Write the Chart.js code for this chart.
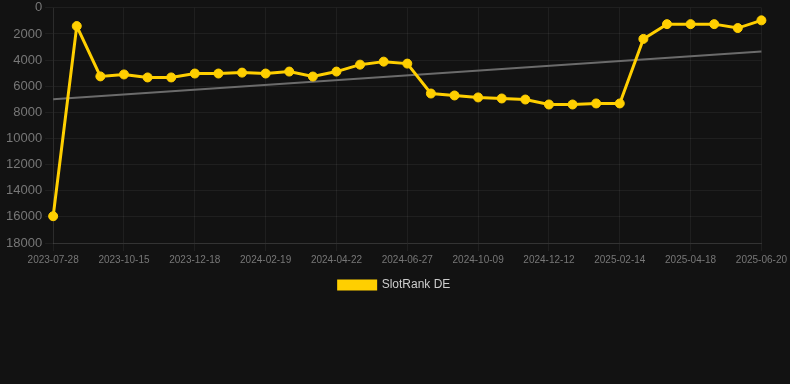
<!DOCTYPE html>
<html>
<head>
<meta charset="utf-8">
<script src="https://cdn.jsdelivr.net/npm/chart.js@4.4.1/dist/chart.umd.min.js"></script>
<style>
  html, body { margin: 0; padding: 0; background: #121212; overflow: hidden; }
  #wrap { width: 790px; height: 304px; position: relative; margin-top: -3px; }
</style>
</head>
<body>
<div id="wrap"><canvas id="rankChart"></canvas></div>
<script>
// 데이터
const dates = [
  '2023-07-28', '2023-08-24', '2023-09-19', '2023-10-15', '2023-11-05', '2023-11-27',
  '2023-12-18', '2024-01-08', '2024-01-29', '2024-02-19', '2024-03-11', '2024-04-01',
  '2024-04-22', '2024-05-14', '2024-06-05', '2024-06-27', '2024-08-01', '2024-09-05',
  '2024-10-09', '2024-10-30', '2024-11-21', '2024-12-12', '2025-01-02', '2025-01-24',
  '2025-02-14', '2025-03-07', '2025-03-28', '2025-04-18', '2025-05-09', '2025-05-30',
  '2025-06-20'
];
const rankDE = [
  15950, 1400, 5250, 5100, 5330, 5330, 5030, 5030, 4960, 5030, 4880, 5260,
  4880, 4350, 4120, 4270, 6560, 6710, 6860, 6940, 7020, 7400, 7400, 7320,
  7320, 2380, 1250, 1250, 1250, 1550, 960
];
const trendStart = 7000;
const trendEnd = 3350;
const yTicks = [0, 2000, 4000, 6000, 8000, 10000, 12000, 14000, 16000, 18000];

const trendData = dates.map((d, i) => i === 0 ? trendStart : (i === dates.length - 1 ? trendEnd : null));

const gridColor = 'rgba(255,255,255,0.06)';
const tickColor = '#777777';
const fontFamily = 'Liberation Sans, Arial';

new Chart(document.getElementById('rankChart'), {
  type: 'line',
  data: {
    labels: dates,
    datasets: [
      {
        label: 'SlotRank DE',
        data: rankDE,
        borderColor: '#ffcf00',
        backgroundColor: '#ffcf00',
        pointBackgroundColor: '#ffcf00',
        pointBorderColor: '#ffcf00',
        pointRadius: 4.5,
        pointBorderWidth: 1,
        borderWidth: 3,
        tension: 0,
        order: 1
      },
      {
        label: 'trend',
        data: trendData,
        borderColor: '#6b6b6b',
        borderWidth: 2,
        pointRadius: 0,
        spanGaps: true,
        order: 2
      }
    ]
  },
  options: {
    responsive: true,
    maintainAspectRatio: false,
    animation: false,
    layout: { padding: { top: 0, right: 4, left: 3, bottom: 0 } },
    plugins: {
      legend: {
        position: 'bottom',
        labels: {
          color: '#cccccc',
          boxWidth: 37,
          boxHeight: 8,
          font: { family: fontFamily, size: 12 },
          filter: item => item.text !== 'trend'
        }
      },
      tooltip: { enabled: false }
    },
    scales: {
      x: {
        grid: { color: gridColor },
        border: { color: '#333333' },
        ticks: {
          color: tickColor,
          autoSkip: false,
          maxRotation: 0,
          font: { family: fontFamily, size: 10 },
          callback: function (val, i) {
            return i % 3 === 0 ? this.getLabelForValue(val) : null;
          }
        }
      },
      y: {
        reverse: true,
        min: 0,
        max: 18000,
        afterBuildTicks: axis => { axis.ticks = yTicks.map(v => ({ value: v })); },
        grid: { color: gridColor },
        border: { color: gridColor },
        ticks: {
          color: tickColor,
          font: { family: fontFamily, size: 13 },
          callback: v => String(v)
        }
      }
    }
  }
});
</script>
</body>
</html>
